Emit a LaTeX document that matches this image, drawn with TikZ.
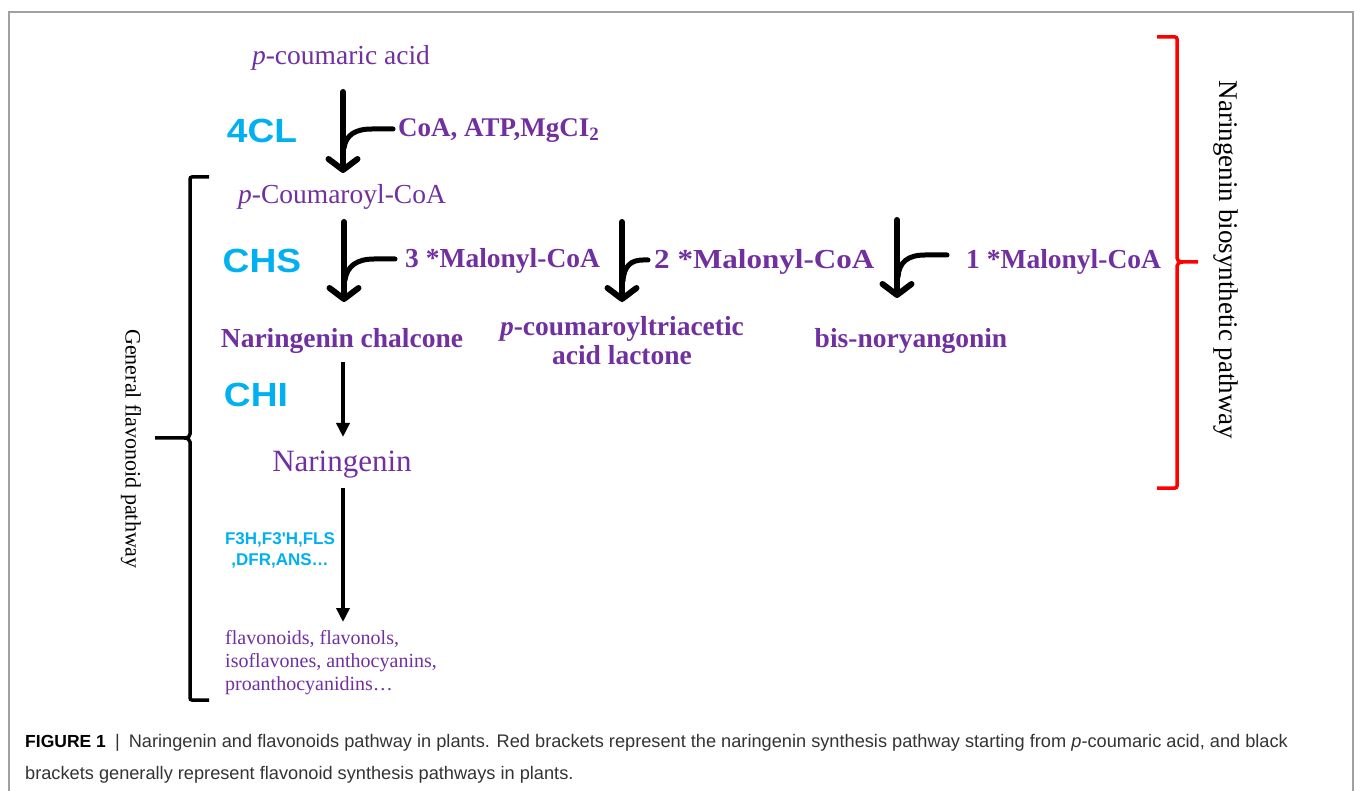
\documentclass[tikz,border=0pt]{standalone}
\usepackage{fontspec}
\setmainfont{Liberation Serif}
\newfontfamily\arialf{Liberation Sans}
\usetikzlibrary{arrows.meta}
\definecolor{npurple}{RGB}{112,48,160}
\definecolor{ncyan}{RGB}{0,176,240}
\definecolor{framegray}{RGB}{160,160,160}
\definecolor{capgray}{RGB}{51,51,51}
\begin{document}
\begin{tikzpicture}[x=1pt,y=-1pt,
  metab/.style={text=npurple,inner sep=0pt,font=\fontsize{27.5}{30}\selectfont},
  metabb/.style={text=npurple,inner sep=0pt,font=\bfseries\fontsize{27.5}{29}\selectfont},
  enz/.style={text=ncyan,inner sep=0pt,xscale=1.11,font=\arialf\bfseries\fontsize{33.5}{36}\selectfont},
  smallenz/.style={text=ncyan,inner sep=0pt,align=center,font=\arialf\bfseries\fontsize{17}{21}\selectfont},
  thickarr/.style={line width=6pt,line cap=round,-{Straight Barb[length=11pt,width=29pt,round]}},
  branch/.style={line width=5pt,line cap=round},
  thinarr/.style={line width=3.5pt,-{Triangle[length=14pt,width=13pt]}},
  bracket/.style={line width=3.5pt,rounded corners=2pt},
  sidelabel/.style={inner sep=0pt,rotate=-90,font=\fontsize{22}{26}\selectfont},
  caption/.style={inner sep=0pt,anchor=base west,text=capgray,font=\arialf\fontsize{18.2}{20}\selectfont}]
\useasboundingbox (0,0) rectangle (1355,791);
% frame
\draw[framegray,line width=1.5pt] (9,791) -- (9,12) -- (1353,12) -- (1353,791);

% metabolites
\node[metab] (pca) at (341,58) {\textit{p}-coumaric acid};
\node[metab] (pcc) at (342,197) {\textit{p}-Coumaroyl-CoA};
\node[metabb] (nc) at (342,341) {Naringenin chalcone};
\node[metabb,align=center] (ptal) at (622,341) {\textit{p}-coumaroyltriacetic\\acid lactone};
\node[metabb] (bis) at (911,341) {bis-noryangonin};
\node[metab,font=\fontsize{31}{34}\selectfont] (nar) at (342,465) {Naringenin};
\node[text=npurple,inner sep=0pt,anchor=west,align=left,font=\fontsize{20}{23}\selectfont] (flav) at (225,663) {flavonoids, flavonols,\\isoflavones, anthocyanins,\\proanthocyanidins\ldots};

% cofactors
\node[metabb,anchor=west,font=\bfseries\fontsize{27}{29}\selectfont] (coa) at (398,131) {CoA, ATP,MgCI\textsubscript{2}};
\node[metabb,anchor=west] (m3) at (405,261) {3 *Malonyl-CoA};
\node[metabb,anchor=west,xscale=1.13] (m2) at (654,262) {2 *Malonyl-CoA};
\node[metabb,anchor=west] (m1) at (966,262) {1 *Malonyl-CoA};

% enzymes
\node[enz] (e4cl) at (262,131) {4CL};
\node[enz] (echs) at (262,261) {CHS};
\node[enz] (echi) at (256,395) {CHI};
\node[smallenz] (eoth) at (280,550) {F3H,F3'H,FLS\\,DFR,ANS\ldots};

% arrow end points
\coordinate (a1s) at (343,92);  \coordinate (a1e) at (343,173);
\coordinate (a2s) at (344,222); \coordinate (a2e) at (344,302);
\coordinate (a3s) at (622,222); \coordinate (a3e) at (622,302);
\coordinate (a4s) at (897,220); \coordinate (a4e) at (897,298);
\coordinate (a5s) at (343,362); \coordinate (a5e) at (343,437);
\coordinate (a6s) at (343,488); \coordinate (a6e) at (343,622);

\draw[thickarr] (a1s) -- (a1e);
\draw[thickarr] (a2s) -- (a2e);
\draw[thickarr] (a3s) -- (a3e);
\draw[thickarr] (a4s) -- (a4e);
\draw[thinarr] (a5s) -- (a5e);
\draw[thinarr] (a6s) -- (a6e);

% branches (cofactor inputs)
\coordinate (b1) at (393,129);
\coordinate (b2) at (395,259);
\coordinate (b3) at (648,260);
\coordinate (b4) at (947,255);
\draw[branch] (b1) -- (372,129) .. controls (355,129) and (346,135) .. (344,148);
\draw[branch] (b2) -- (374,259) .. controls (357,259) and (347,266) .. (345,280);
\draw[branch] (b3) -- (643,260) .. controls (631,260) and (624,266) .. (623,281);
\draw[branch] (b4) -- (925,255) .. controls (908,255) and (899,262) .. (898,277);

% black bracket (general flavonoid pathway)
\draw[bracket] (209,177) -- (190,177) -- (190,432) .. controls (190,436) and (188,438) .. (184,438) -- (155,438);
\draw[bracket] (184,438) .. controls (188,438) and (190,440) .. (190,444) -- (190,700) -- (209,700);
\node[sidelabel] (gfp) at (131,449) {General flavonoid pathway};

% red bracket (naringenin biosynthetic pathway)
\draw[bracket,red] (1157,37) -- (1177,37) -- (1177,256) .. controls (1177,260) and (1179,262) .. (1183,262) -- (1198,262);
\draw[bracket,red] (1183,262) .. controls (1179,262) and (1177,264) .. (1177,268) -- (1177,488) -- (1157,488);
\node[sidelabel,font=\fontsize{27}{30}\selectfont] (nbp) at (1226,260) {Naringenin biosynthetic pathway};

% caption
\node[caption] (cap1) at (25,747) {\textcolor{black}{\bfseries\fontsize{17.5}{20}\selectfont FIGURE 1}\enspace|\enspace Naringenin and flavonoids pathway in plants. Red brackets represent the naringenin synthesis pathway starting from \textit{p}-coumaric acid, and black};
\node[caption] (cap2) at (25,779) {brackets generally represent flavonoid synthesis pathways in plants.};
\end{tikzpicture}
\end{document}
